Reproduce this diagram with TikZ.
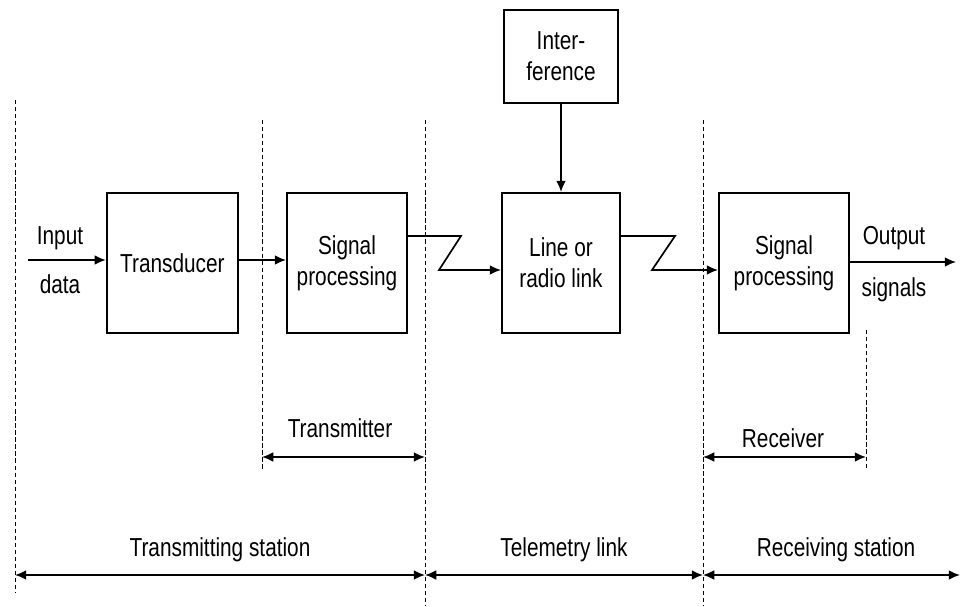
\documentclass[tikz,border=0pt]{standalone}
\usepackage{fontspec}
\setmainfont{Liberation Sans}[FakeStretch=0.8]
\usepackage{tikz}
\usetikzlibrary{arrows.meta}

\begin{document}
\begin{tikzpicture}[
    font=\fontsize{18.5}{22}\selectfont,
    box/.style={draw, line width=1.4pt, inner sep=0pt, align=center},
    sep/.style={dashed, line width=0.7pt, dash pattern=on 3pt off 2pt},
    arr/.style={line width=1.2pt, -{Latex[length=8pt,width=7pt]}},
    dim/.style={line width=1.2pt, {Latex[length=8pt,width=7pt]}-{Latex[length=8pt,width=7pt]}}
  ]
      \useasboundingbox (0, 0) rectangle (24.025, 15.15);
      % blocks
      \node[box, minimum width=3.28cm, minimum height=3.5cm] (trans) at (4.31, 8.575) {Transducer};
      \node[box, minimum width=3.0cm, minimum height=3.5cm] (sigtx) at (8.675, 8.575) {Signal\\processing};
      \node[box, minimum width=2.95cm, minimum height=3.5cm] (link) at (14.025, 8.575) {Line or\\radio link};
      \node[box, minimum width=3.25cm, minimum height=3.5cm] (sigrx) at (19.6, 8.575) {Signal\\processing};
      \node[box, minimum width=2.85cm, minimum height=2.33cm] (interf) at (14.025, 13.74) {Inter-\\ference};
      % input and output
      \coordinate (in) at (0.7, 8.65);
      \coordinate (out) at (23.9, 8.6);
      \node (inlbl) at (1.5, 9.2) {Input};
      \node (datalbl) at (1.5, 8.05) {data};
      \node (outlbl) at (22.35, 9.2) {Output};
      \node (siglbl) at (22.35, 7.9) {signals};
      \draw[arr] (in) -- (trans.west |- in);
      \draw[arr] (trans.east |- in) -- (sigtx.west |- in);
      \draw[arr] (sigrx.east |- out) -- (out);
      \draw[arr] (interf.south) -- (link.north);
      % radio links
      \draw[arr] (sigtx.east |- 0, 9.25) -- (11.525, 9.25) -- (10.975, 8.4) -- (link.west |- 0, 8.4);
      \draw[arr] (link.east |- 0, 9.25) -- (16.875, 9.25) -- (16.3, 8.4) -- (sigrx.west |- 0, 8.4);
      % separators
      \draw[sep] (0.375, 12.65) -- (0.375, 0.325);
      \draw[sep] (6.55, 12.15) -- (6.55, 3.4);
      \draw[sep] (10.625, 12.15) -- (10.625, 0);
      \draw[sep] (17.575, 12.15) -- (17.575, 0);
      \draw[sep] (21.65, 6.9) -- (21.65, 3.4);
      % extents
      \draw[dim] (6.55, 3.725) -- (10.625, 3.725);
      \node (txlbl) at (8.5, 4.45) {Transmitter};
      \draw[dim] (17.575, 3.725) -- (21.65, 3.725);
      \node (rxlbl) at (19.575, 4.2) {Receiver};
      \draw[dim] (0.375, 0.775) -- (10.625, 0.775);
      \node (tslbl) at (5.5, 1.4) {Transmitting station};
      \draw[dim] (10.625, 0.775) -- (17.575, 0.775);
      \node (tllbl) at (14.1, 1.4) {Telemetry link};
      \draw[dim] (17.575, 0.775) -- (24.0, 0.775);
      \node (rslbl) at (20.9, 1.4) {Receiving station};
\end{tikzpicture}
\end{document}
